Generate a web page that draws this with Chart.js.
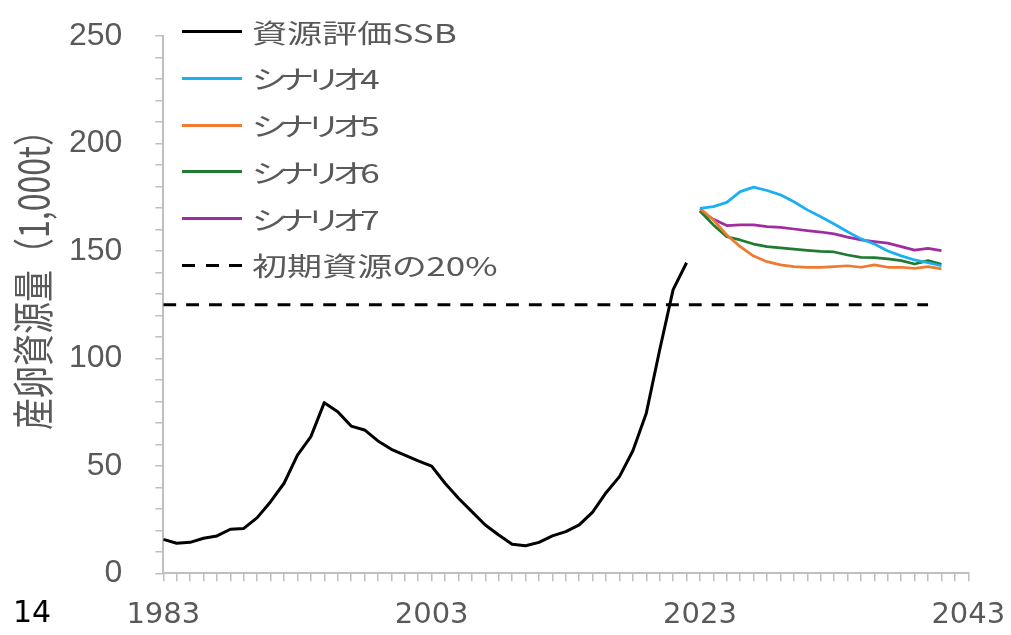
<!DOCTYPE html>
<html lang="ja">
<head>
<meta charset="utf-8">
<title>産卵資源量</title>
<script src="https://cdn.jsdelivr.net/npm/chart.js@4.4.1/dist/chart.umd.min.js"></script>
<style>
  html, body { margin: 0; padding: 0; background: #fff; }
  #wrap { position: relative; width: 1011px; height: 635px; overflow: hidden; }
  #chart { position: absolute; left: 0; top: 0; }
  .lg-row { position: absolute; left: 182px; height: 0; }
  .lg-line { position: absolute; left: 0; width: 60px; height: 3px; top: -1.5px; }
  .lg-text {
    position: absolute; left: 70px; top: -18px; white-space: nowrap;
    font-family: 'Noto Sans CJK JP', sans-serif; font-size: 26px; line-height: 36px;
    color: #595959; font-feature-settings: "palt" 1;
    transform: scaleX(1.35); transform-origin: left center;
  }
  .lg-text.kana { letter-spacing: -3.5px; }
</style>
</head>
<body>
<div id="wrap">
  <canvas id="chart" width="1011" height="635"></canvas>
  <div id="legend"></div>
</div>
<script>
// Spawning stock biomass (1,000 t)
const ssbYears = [1983, 1984, 1985, 1986, 1987, 1988, 1989, 1990, 1991, 1992,
  1993, 1994, 1995, 1996, 1997, 1998, 1999, 2000, 2001, 2002,
  2003, 2004, 2005, 2006, 2007, 2008, 2009, 2010, 2011, 2012,
  2013, 2014, 2015, 2016, 2017, 2018, 2019, 2020, 2021, 2022];
const ssbValues = [15.8, 14.0, 14.4, 16.3, 17.4, 20.5, 20.9, 25.9, 33.3, 41.9,
  55.0, 63.6, 79.4, 75.2, 68.5, 66.7, 61.6, 57.7, 55.0, 52.3,
  49.9, 41.9, 34.9, 28.7, 22.5, 17.8, 13.5, 12.8, 14.4, 17.4,
  19.4, 22.5, 28.5, 37.5, 45.0, 57.0, 74.5, 104.0, 132.0, 144.5];

// Projections
const scenarioYears = [2023, 2024, 2025, 2026, 2027, 2028, 2029, 2030, 2031, 2032,
  2033, 2034, 2035, 2036, 2037, 2038, 2039, 2040, 2041];
const scenario4 = [169.8, 170.6, 172.6, 177.6, 179.7, 178.1, 176.1, 172.9, 169.1, 165.9,
  162.5, 158.9, 155.6, 153.2, 150.0, 147.7, 145.8, 144.5, 143.1];
const scenario5 = [169.8, 164.4, 157.4, 152.0, 147.6, 145.0, 143.5, 142.7, 142.4, 142.4,
  142.7, 143.1, 142.4, 143.5, 142.4, 142.4, 141.9, 142.7, 141.6];
const scenario6 = [168.6, 162.1, 156.6, 155.1, 153.2, 152.0, 151.4, 150.8, 150.3, 149.8,
  149.5, 148.1, 147.0, 146.9, 146.3, 145.5, 143.9, 145.5, 143.8];
const scenario7 = [168.8, 164.7, 161.8, 162.1, 162.1, 161.3, 161.0, 160.2, 159.4, 158.8,
  157.9, 156.4, 155.1, 154.3, 153.6, 152.0, 150.4, 151.2, 150.1];

// 20% of initial biomass
const limitYears = [1983, 2040];
const limitValue = 125;

const xTickLabels = [1983, 2003, 2023, 2043];
const yTickLabels = [0, 50, 100, 150, 200, 250];
const yTitle = '産卵資源量（1,000t）';
const pageNo = '14';

function toXY(xs, ys) {
  return xs.map((x, i) => ({ x: x, y: ys[i] }));
}

const lineSet = (label, data, color, width) => ({
  label, data, borderColor: color, backgroundColor: color,
  borderWidth: width, pointRadius: 0, tension: 0, fill: false,
  borderJoinStyle: 'round', borderCapStyle: 'butt'
});

const datasets = [
  lineSet('資源評価SSB', toXY(ssbYears, ssbValues), '#000000', 3),
  lineSet('シナリオ4', toXY(scenarioYears, scenario4), '#1ab0ef', 2.75),
  lineSet('シナリオ5', toXY(scenarioYears, scenario5), '#f07a30', 2.75),
  lineSet('シナリオ6', toXY(scenarioYears, scenario6), '#1f7a32', 2.75),
  lineSet('シナリオ7', toXY(scenarioYears, scenario7), '#a02ca0', 2.75),
  Object.assign(lineSet('初期資源の20%', toXY(limitYears, limitYears.map(() => limitValue)), '#000000', 3),
    { borderDash: [12.85, 10] })
];

// HTML legend, built from the datasets
const htmlLegend = {
  id: 'htmlLegend',
  afterUpdate(chart) {
    const box = document.getElementById('legend');
    box.innerHTML = '';
    chart.data.datasets.forEach((ds, i) => {
      const row = document.createElement('div');
      row.className = 'lg-row';
      row.style.top = (31.7 + i * 46.7) + 'px';
      const ln = document.createElement('div');
      ln.className = 'lg-line';
      if (ds.borderDash) {
        ln.style.background = 'repeating-linear-gradient(to right, ' + ds.borderColor +
          ' 0 13px, transparent 13px 23.5px)';
      } else {
        ln.style.background = ds.borderColor;
      }
      const tx = document.createElement('div');
      tx.className = 'lg-text' + (/^[\u30a0-\u30ff]/.test(ds.label) ? ' kana' : '');
      tx.textContent = ds.label;
      row.appendChild(ln);
      row.appendChild(tx);
      box.appendChild(row);
    });
  }
};

// Rotated axis title and page number
const extraText = {
  id: 'extraText',
  afterDraw(chart) {
    const c = chart.ctx;
    c.save();
    c.fillStyle = '#595959';
    c.font = "32px 'Noto Sans CJK JP'";
    c.translate(33, 272);
    c.rotate(-Math.PI / 2);
    c.scale(1, 1.3);
    c.textAlign = 'center';
    c.textBaseline = 'middle';
    c.fillText(yTitle, 0, 0);
    c.restore();

    c.save();
    c.fillStyle = '#000000';
    c.font = "30px 'DejaVu Sans'";
    c.textAlign = 'left';
    c.textBaseline = 'alphabetic';
    c.fillText(pageNo, 13, 622);
    c.restore();
  }
};

// let layout padding alone decide the plot box
function noLabelPadding(s) {
  s.paddingTop = 0; s.paddingBottom = 0; s.paddingLeft = 0; s.paddingRight = 0;
}

const axisGray = '#bfbfbf';

new Chart(document.getElementById('chart'), {
  type: 'line',
  data: { datasets },
  options: {
    responsive: false,
    devicePixelRatio: 1,
    animation: false,
    layout: { padding: { top: 36, right: 42.7, left: 0, bottom: 0 } },
    plugins: { legend: { display: false }, tooltip: { enabled: false } },
    scales: {
      x: {
        type: 'linear', min: 1983, max: 2043,
        border: { color: axisGray, width: 2 },
        grid: { drawOnChartArea: false, color: axisGray, lineWidth: 1.5, tickLength: 8 },
        ticks: {
          stepSize: 1, autoSkip: false, maxTicksLimit: 100, maxRotation: 0,
          padding: 17, color: '#595959', font: { family: 'DejaVu Sans', size: 29 },
          callback: v => xTickLabels.includes(v) ? String(v) : ''
        },
        afterFit(s) { s.height = 61.7; noLabelPadding(s); }
      },
      y: {
        min: 0, max: 250,
        border: { color: axisGray, width: 2 },
        grid: { drawOnChartArea: false, color: axisGray, lineWidth: 1.5, tickLength: 8 },
        ticks: {
          stepSize: 10, autoSkip: false, maxTicksLimit: 100,
          padding: 33, color: '#595959', font: { family: 'Liberation Sans', size: 32 },
          callback: v => yTickLabels.includes(v) ? String(v) : ''
        },
        afterFit(s) { s.width = 163.3; noLabelPadding(s); }
      }
    }
  },
  plugins: [htmlLegend, extraText]
});
</script>
</body>
</html>
